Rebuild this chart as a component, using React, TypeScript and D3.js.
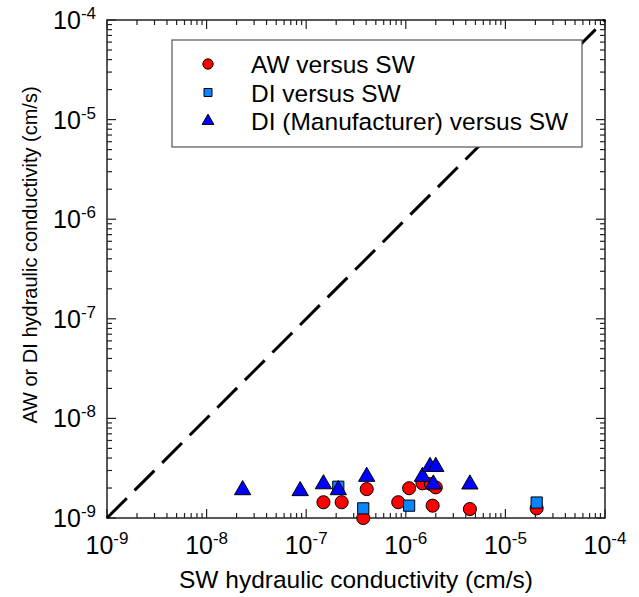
import React, { useEffect, useRef } from "react";
import * as d3 from "d3";

// SW conductivity (x) vs AW / DI conductivity (y), cm/s
const awPoints: [number, number][] = [
  [1.49e-7, 1.44e-9],
  [2.27e-7, 1.44e-9],
  [3.74e-7, 1.0e-9],
  [4.05e-7, 1.95e-9],
  [8.4e-7, 1.44e-9],
  [1.08e-6, 1.99e-9],
  [1.47e-6, 2.23e-9],
  [1.79e-6, 2.19e-9],
  [2.0e-6, 2.03e-9],
  [1.86e-6, 1.33e-9],
  [4.4e-6, 1.23e-9],
  [2.06e-5, 1.25e-9],
];
const diPoints: [number, number][] = [
  [2.1e-7, 2.06e-9],
  [3.74e-7, 1.25e-9],
  [1.08e-6, 1.33e-9],
  [2.06e-5, 1.43e-9],
];
const diManufPoints: [number, number][] = [
  [2.3e-8, 1.91e-9],
  [8.7e-8, 1.87e-9],
  [1.49e-7, 2.19e-9],
  [2.1e-7, 1.91e-9],
  [4.05e-7, 2.6e-9],
  [1.47e-6, 2.6e-9],
  [1.75e-6, 3.27e-9],
  [2.0e-6, 3.27e-9],
  [1.89e-6, 2.18e-9],
  [4.4e-6, 2.18e-9],
];
const decades = [-9, -8, -7, -6, -5, -4];
const legendLabels = ["AW versus SW", "DI versus SW", "DI (Manufacturer) versus SW"];

export default function App() {
  const svgRef = useRef<SVGSVGElement>(null);

  useEffect(() => {
    const W = 639;
    const H = 597;
    const m = { left: 107, right: 34, top: 20, bottom: 79 };
    const svg = d3.select(svgRef.current);
    svg.selectAll("*").remove();
    svg.attr("width", W).attr("height", H);

    const x = d3.scaleLog().domain([1e-9, 1e-4]).range([m.left, W - m.right]);
    const y = d3.scaleLog().domain([1e-9, 1e-4]).range([H - m.bottom, m.top]);
    const font = "Liberation Sans, Arial, sans-serif";

    const x0 = x.range()[0], x1 = x.range()[1];
    const y0 = y.range()[0], y1 = y.range()[1];

    // ticks, inward on all four sides
    const minor: number[] = [];
    decades.slice(0, -1).forEach((e) => {
      for (let k = 2; k <= 9; k++) minor.push(k * Math.pow(10, e));
    });
    const major = decades.map((e) => Math.pow(10, e));
    const tk = svg.append("g").attr("stroke", "#222").attr("stroke-width", 1.2);
    const addTicks = (vals: number[], len: number) => {
      vals.forEach((v) => {
        const px = x(v), py = y(v);
        tk.append("line").attr("x1", px).attr("x2", px).attr("y1", y0).attr("y2", y0 - len);
        tk.append("line").attr("x1", px).attr("x2", px).attr("y1", y1).attr("y2", y1 + len);
        tk.append("line").attr("y1", py).attr("y2", py).attr("x1", x0).attr("x2", x0 + len);
        tk.append("line").attr("y1", py).attr("y2", py).attr("x1", x1).attr("x2", x1 - len);
      });
    };
    addTicks(minor, 5);
    addTicks(major, 9);

    svg
      .append("rect")
      .attr("x", x0)
      .attr("y", y1)
      .attr("width", x1 - x0)
      .attr("height", y0 - y1)
      .attr("fill", "none")
      .attr("stroke", "#222")
      .attr("stroke-width", 1.5);

    // tick labels
    const lab = svg.append("g").attr("font-family", font).attr("fill", "#000");
    decades.forEach((e) => {
      const tx = lab
        .append("text")
        .attr("x", x(Math.pow(10, e)))
        .attr("y", y0 + 36)
        .attr("text-anchor", "middle")
        .attr("font-size", 25);
      tx.append("tspan").text("10");
      tx.append("tspan").attr("dy", -10).attr("font-size", 17).text(String(e));
      const ty = lab
        .append("text")
        .attr("x", x0 - 11)
        .attr("y", y(Math.pow(10, e)) + 9)
        .attr("text-anchor", "end")
        .attr("font-size", 25);
      ty.append("tspan").text("10");
      ty.append("tspan").attr("dy", -10).attr("font-size", 17).text(String(e));
    });

    lab
      .append("text")
      .attr("x", (x0 + x1) / 2)
      .attr("y", 588)
      .attr("text-anchor", "middle")
      .attr("font-size", 24.5)
      .text("SW hydraulic conductivity (cm/s)");
    lab
      .append("text")
      .attr("transform", `translate(37,${(y0 + y1) / 2 - 14}) rotate(-90)`)
      .attr("text-anchor", "middle")
      .attr("font-size", 20)
      .text("AW or DI hydraulic conductivity (cm/s)");

    // 1:1 line
    svg
      .append("line")
      .attr("x1", x(1e-9))
      .attr("y1", y(1e-9))
      .attr("x2", x(1e-4))
      .attr("y2", y(1e-4))
      .attr("stroke", "#000")
      .attr("stroke-width", 3)
      .attr("stroke-dasharray", "28,11");

    // legend
    const lg = svg.append("g");
    lg.append("rect")
      .attr("x", 172)
      .attr("y", 40)
      .attr("width", 410)
      .attr("height", 107)
      .attr("fill", "#fff")
      .attr("stroke", "#555")
      .attr("stroke-width", 1.2);

    const circle = d3.symbol(d3.symbolCircle);
    const square = d3.symbol(d3.symbolSquare);
    const tri = d3.symbol(d3.symbolTriangle);

    const series = [
      { pts: awPoints, sym: circle.size(135)(), legSym: circle.size(85)(), fill: "#ff0000" },
      { pts: diPoints, sym: square.size(125)(), legSym: square.size(64)(), fill: "#0a84ff" },
      { pts: diManufPoints, sym: tri.size(115)(), legSym: tri.size(60)(), fill: "#0000ff" },
    ];

    series.forEach((s, i) => {
      const ly = 64 + i * 28.5;
      lg.append("path")
        .attr("d", s.legSym)
        .attr("transform", `translate(208,${ly})`)
        .attr("fill", s.fill)
        .attr("stroke", "#000")
        .attr("stroke-width", 1);
      lg.append("text")
        .attr("x", 251)
        .attr("y", ly + 9)
        .attr("font-family", font)
        .attr("font-size", 24.5)
        .text(legendLabels[i]);
    });

    series.forEach((s) => {
      svg
        .append("g")
        .selectAll("path")
        .data(s.pts)
        .join("path")
        .attr("d", s.sym)
        .attr("transform", (d) => `translate(${x(d[0])},${y(d[1])})`)
        .attr("fill", s.fill)
        .attr("stroke", "#000")
        .attr("stroke-width", 1);
    });
  }, []);

  return (
    <svg
      ref={svgRef}
      style={{ position: "absolute", left: 0, top: 0, background: "#fff" }}
    />
  );
}
